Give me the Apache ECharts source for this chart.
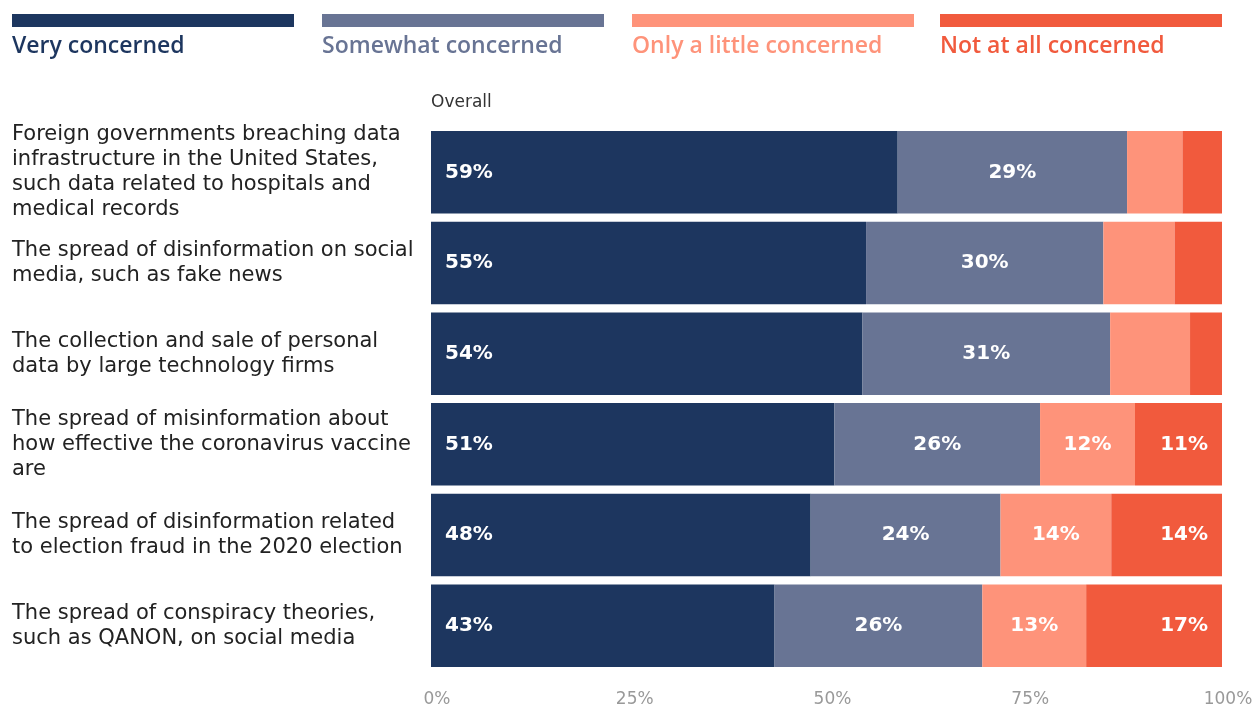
<!DOCTYPE html>
<html>
<head>
<meta charset="utf-8">
<script src="https://cdn.jsdelivr.net/npm/echarts@6/dist/echarts.min.js"></script>
<style>
  html, body { margin: 0; padding: 0; background: #fff; }
  #chart { width: 1252px; height: 711px; }
</style>
</head>
<body>
<div id="chart"></div>
<script>
// Survey topics, top to bottom
const categories = [
  'Foreign governments breaching data\ninfrastructure in the United States,\nsuch data related to hospitals and\nmedical records',
  'The spread of disinformation on social\nmedia, such as fake news',
  'The collection and sale of personal\ndata by large technology firms',
  'The spread of misinformation about\nhow effective the coronavirus vaccine\nare',
  'The spread of disinformation related\nto election fraud in the 2020 election',
  'The spread of conspiracy theories,\nsuch as QANON, on social media'
];

// Share of respondents (%) per answer
const veryConcerned     = [59, 55, 54, 51, 48, 43];
const somewhatConcerned = [29, 30, 31, 26, 24, 26];
const littleConcerned   = [7, 9, 10, 12, 14, 13];
const notConcerned      = [5, 6, 4, 11, 14, 17];

const seriesNames = ['Very concerned', 'Somewhat concerned', 'Only a little concerned', 'Not at all concerned'];
const seriesColors = ['#1d365f', '#687494', '#fe937a', '#f15a3d'];
const axisTicks = [0, 25, 50, 75, 100];

const FONT = '"Open Sans", Lato, sans-serif';
const WIDE = '"DejaVu Sans", "Open Sans", sans-serif';
const groups = [veryConcerned, somewhatConcerned, littleConcerned, notConcerned];
// Each row is drawn as a share of its own total, so every bar spans the full width
const rowTotals = categories.map((_, i) => groups.reduce((s, g) => s + g[i], 0));

const labelPos = ['insideLeft', 'inside', 'inside', 'insideRight'];

const series = groups.map((vals, k) => ({
  name: seriesNames[k],
  type: 'bar',
  stack: 'total',
  barCategoryGap: '9%',
  itemStyle: { color: seriesColors[k] },
  data: vals.map((v, i) => ({
    value: v / rowTotals[i] * 100,
    raw: v,
    label: { show: v > 10 }
  })),
  label: {
    position: labelPos[k],
    distance: 14,
    color: '#fff',
    fontFamily: WIDE,
    fontWeight: 'bold',
    fontSize: 20,
    formatter: p => p.data.raw + '%'
  }
}));

// Legend: colour strip with its caption underneath
const legendX = [12, 322, 632, 940];
const legendW = 282;
const graphic = [];
seriesNames.forEach((name, k) => {
  graphic.push({
    type: 'rect', left: legendX[k], top: 14,
    shape: { width: legendW, height: 13 },
    style: { fill: seriesColors[k] }
  });
  graphic.push({
    type: 'text', left: legendX[k], top: 35,
    style: { text: name, fill: seriesColors[k], font: '600 23px ' + FONT }
  });
});
graphic.push({
  type: 'text', left: 431, top: 94,
  style: { text: 'Overall', fill: '#333', font: '17px ' + WIDE }
});

const chart = echarts.init(document.getElementById('chart'));
chart.setOption({
  animation: false,
  grid: { left: 431, right: 30, top: 127, bottom: 40, containLabel: false, outerBoundsMode: 'none' },
  xAxis: {
    type: 'value', min: 0, max: 100, interval: 25,
    splitLine: { show: false },
    axisLine: { show: false },
    axisTick: { show: false },
    axisLabel: {
      color: '#999', fontFamily: WIDE, fontSize: 17, margin: 20,
      formatter: v => axisTicks.includes(v) ? v + '%' : '',
      rich: {},
      padding: [0, 0, 0, 12]
    }
  },
  yAxis: {
    type: 'category', data: categories, inverse: true,
    axisLine: { show: false },
    axisTick: { show: false },
    axisLabel: {
      align: 'left', margin: 419,
      color: '#222', fontFamily: WIDE, fontSize: 21, lineHeight: 25
    }
  },
  graphic: graphic,
  series: series
});
</script>
</body>
</html>
